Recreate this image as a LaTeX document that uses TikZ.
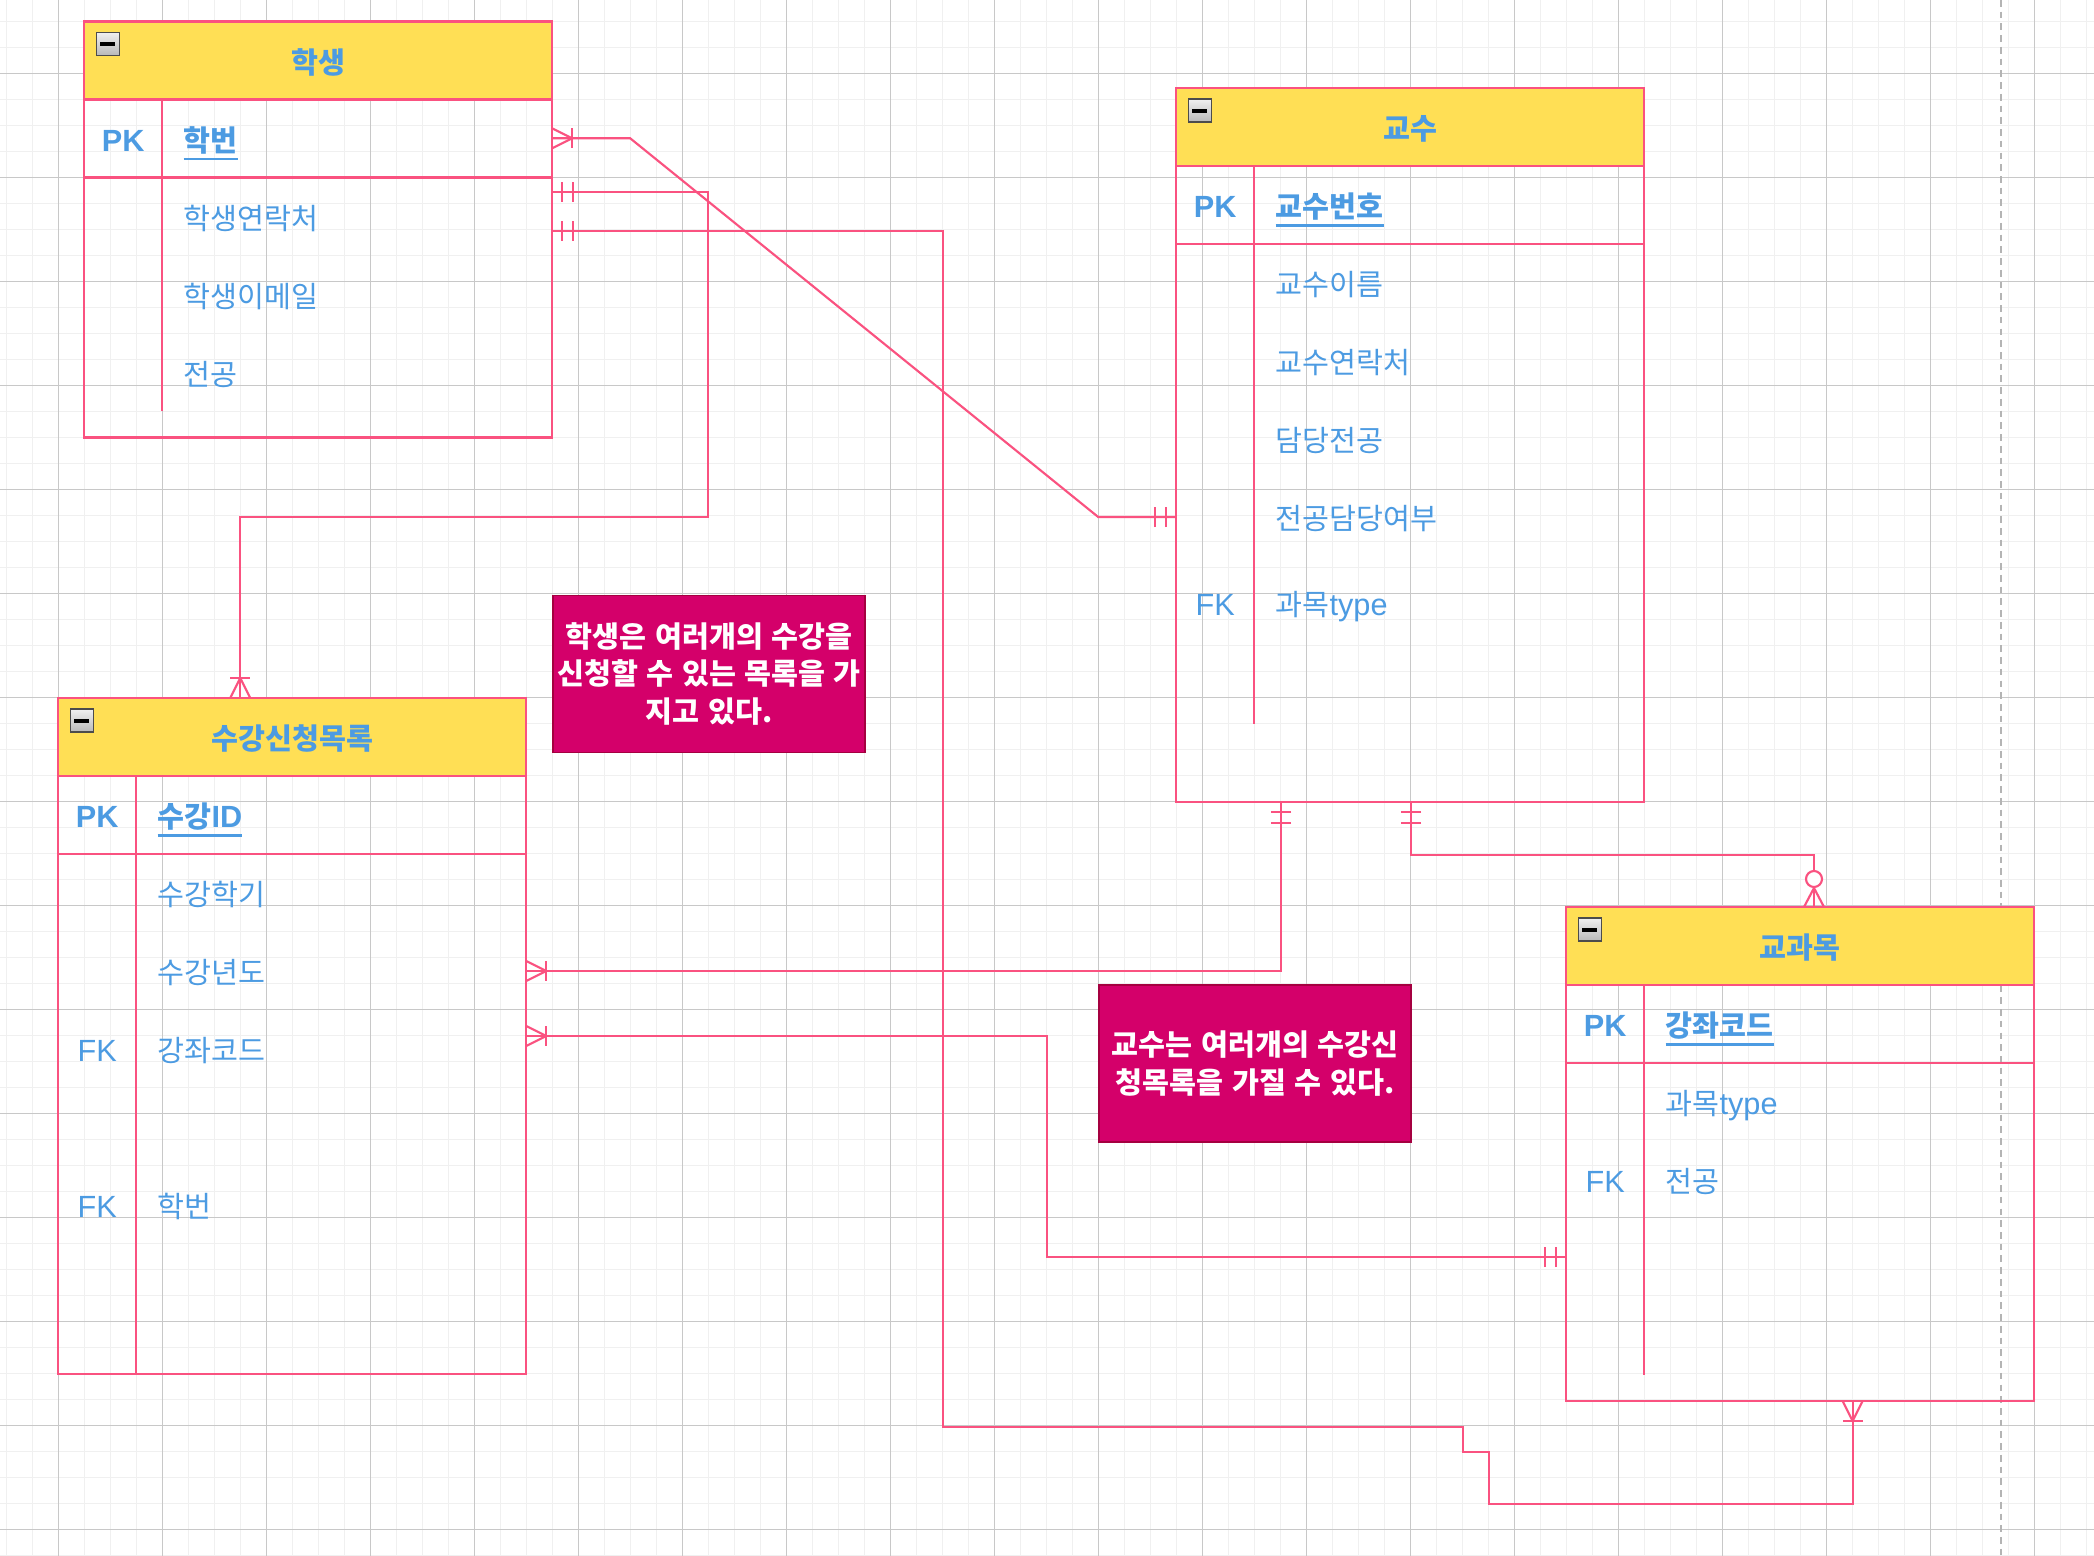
\documentclass[tikz,border=0pt]{standalone}
\usepackage{fontspec}
\setmainfont{Liberation Sans}
\newfontfamily\krf{Noto Sans CJK KR}[Scale=0.955]
\newcommand\K[1]{{\krf #1}}
\newcommand\ulk[1]{\setbox0\hbox{#1}\rlap{\rule[-3.3pt]{\wd0}{0.9pt}}\box0}
\usetikzlibrary{calc}
\definecolor{erpink}{RGB}{250,82,128}
\definecolor{eryellow}{HTML}{FFDF55}
\definecolor{erblue}{HTML}{4C9BE2}
\definecolor{notefill}{HTML}{D4006A}
\definecolor{noteline}{HTML}{A50040}
\definecolor{gridminor}{HTML}{F0F0F0}
\definecolor{gridmajor}{HTML}{C8C8C8}
\definecolor{pageline}{HTML}{B4B4B4}
\tikzset{
  basefont/.style={font=\fontsize{11.5pt}{14pt}\selectfont},
  tbl/.style={draw=erpink, line width=0.9pt, inner sep=0pt, outer sep=0pt, anchor=north west, rectangle, minimum width=175.5pt},
  hdr/.style={draw=erpink, fill=eryellow, line width=0.9pt, inner sep=0pt, outer sep=0pt, anchor=north west, rectangle, minimum width=175.5pt, minimum height=29.25pt},
  rowline/.style={draw=erpink, line width=0.9pt},
  txt/.style={basefont, text=erblue, inner sep=0pt, text height=12pt, text depth=2.4pt},
  htxt/.style={txt, font=\fontsize{11.5pt}{14pt}\selectfont\bfseries},
  keytxt/.style={txt, anchor=center},
  attr/.style={txt, anchor=west},
  conn/.style={draw=erpink, line width=0.8pt},
  note/.style={draw=noteline, fill=notefill, line width=0.7pt, text=white, font=\fontsize{11.5pt}{14pt}\selectfont\bfseries, align=center, minimum width=117pt, minimum height=58.9pt, inner sep=0pt, anchor=north west},
  pics/ermany/.style={code={\draw[conn] (0,10) -- (20,0) -- (0,-10); \draw[conn] (20,-10) -- (20,10);}},
  pics/ermand/.style={code={\draw[conn] (10,-10) -- (10,10) (21,-10) -- (21,10);}},
  pics/erzero/.style={code={\draw[conn] (0,10) -- (19,0) -- (0,-10); \draw[conn, fill=white] (28,0) circle[radius=3pt];}},
  pics/collapse/.style={code={
    \draw[draw=gray!60!black, line width=0.5pt, top color=gray!12, bottom color=gray!55] (0,0) rectangle (23,23);
    \fill[black] (3.5,9.5) rectangle (18.5,13.5);}}
}
\begin{document}
\begin{tikzpicture}[x=0.375pt, y=-0.375pt]
\useasboundingbox (0,0) rectangle (2094,1556);
\fill[white] (0,0) rectangle (2094,1556);
% grid
\foreach \i in {0,...,80} \draw[gridminor, line width=0.5pt] ({6.2+26*\i},0) -- ({6.2+26*\i},1556);
\foreach \i in {0,...,59} \draw[gridminor, line width=0.5pt] (0,{21.3+26*\i}) -- (2094,{21.3+26*\i});
\foreach \i in {0,...,19} \draw[gridmajor, line width=0.4pt] ({58.2+104*\i},0) -- ({58.2+104*\i},1556);
\foreach \i in {0,...,14} \draw[gridmajor, line width=0.4pt] (0,{73.3+104*\i}) -- (2094,{73.3+104*\i});
\draw[pageline, line width=0.6pt, dash pattern=on 2.5pt off 1.9pt] (2001,0) -- (2001,1556);

% ---------- tables ----------
% 학생
\node[tbl, minimum height=156pt] (stu) at (84.2,21.3) {};
\node[hdr] (stuH) at (stu.north west) {};
\node[htxt] (stuT) at (stuH.center) {\K{학생}};
\draw[rowline] ($(stu.north west)+(0,156)$) -- ($(stu.north east)+(0,156)$);
\draw[rowline] ($(stu.north west)+(78,78)$) -- ($(stu.south west)+(78,-26)$);
\pic at ($(stu.north west)+(12,11)$) {collapse};
\node[keytxt] (stuK1) at (123.2,138.3) {\bfseries PK};
\node[attr] (stuA1) at (183.2,138.3) {\bfseries\ulk{\K{학번}}};
\node[attr] (stuA2) at (183.2,216.3) {\K{학생연락처}};
\node[attr] (stuA3) at (183.2,294.3) {\K{학생이메일}};
\node[attr] (stuA4) at (183.2,372.3) {\K{전공}};

% 교수
\node[tbl, minimum height=267.75pt] (prof) at (1176.2,88) {};
\node[hdr] (profH) at (prof.north west) {};
\node[htxt] (profT) at (profH.center) {\K{교수}};
\draw[rowline] ($(prof.north west)+(0,156)$) -- ($(prof.north east)+(0,156)$);
\draw[rowline] ($(prof.north west)+(78,78)$) -- ($(prof.south west)+(78,-78)$);
\pic at ($(prof.north west)+(12,11)$) {collapse};
\node[keytxt] (profK1) at (1215.2,205) {\bfseries PK};
\node[attr] (profA1) at (1275.2,205) {\bfseries\ulk{\K{교수번호}}};
\node[attr] (profA2) at (1275.2,283) {\K{교수이름}};
\node[attr] (profA3) at (1275.2,361) {\K{교수연락처}};
\node[attr] (profA4) at (1275.2,439) {\K{담당전공}};
\node[attr] (profA5) at (1275.2,517) {\K{전공담당여부}};
\node[keytxt] (profK2) at (1215.2,603) {FK};
\node[attr] (profA6) at (1275.2,603) {\K{과목}type};

% 수강신청목록
\node[tbl, minimum height=253.5pt] (enr) at (58.2,698) {};
\node[hdr] (enrH) at (enr.north west) {};
\node[htxt] (enrT) at (enrH.center) {\K{수강신청목록}};
\draw[rowline] ($(enr.north west)+(0,156)$) -- ($(enr.north east)+(0,156)$);
\draw[rowline] ($(enr.north west)+(78,78)$) -- ($(enr.south west)+(78,0)$);
\pic at ($(enr.north west)+(12,11)$) {collapse};
\node[keytxt] (enrK1) at (97.2,815) {\bfseries PK};
\node[attr] (enrA1) at (157.2,815) {\bfseries\ulk{\K{수강}ID}};
\node[attr] (enrA2) at (157.2,893) {\K{수강학기}};
\node[attr] (enrA3) at (157.2,971) {\K{수강년도}};
\node[keytxt] (enrK2) at (97.2,1049) {FK};
\node[attr] (enrA4) at (157.2,1049) {\K{강좌코드}};
\node[keytxt] (enrK3) at (97.2,1205) {FK};
\node[attr] (enrA5) at (157.2,1205) {\K{학번}};

% 교과목
\node[tbl, minimum height=185.25pt] (subj) at (1566.2,907) {};
\node[hdr] (subjH) at (subj.north west) {};
\node[htxt] (subjT) at (subjH.center) {\K{교과목}};
\draw[rowline] ($(subj.north west)+(0,156)$) -- ($(subj.north east)+(0,156)$);
\draw[rowline] ($(subj.north west)+(78,78)$) -- ($(subj.south west)+(78,-26)$);
\pic at ($(subj.north west)+(12,11)$) {collapse};
\node[keytxt] (subjK1) at (1605.2,1024) {\bfseries PK};
\node[attr] (subjA1) at (1665.2,1024) {\bfseries\ulk{\K{강좌코드}}};
\node[attr] (subjA2) at (1665.2,1102) {\K{과목}type};
\node[keytxt] (subjK2) at (1605.2,1180) {FK};
\node[attr] (subjA3) at (1665.2,1180) {\K{전공}};

% ---------- notes ----------
\node[note] (note1) at (552.2,594.5) {\K{학생은} \K{여러개의} \K{수강을}\\\K{신청할} \K{수} \K{있는} \K{목록을} \K{가}\\\K{지고} \K{있다.}};
\node[note] (note2) at (1098.2,984) {\K{교수는} \K{여러개의} \K{수강신}\\\K{청목록을} \K{가질} \K{수} \K{있다.}};

% ---------- connection points ----------
\coordinate (c1s) at ($(stu.north east)+(0,117)$);
\coordinate (c1e) at ($(prof.north west)+(0,429)$);
\coordinate (c2s) at ($(stu.north east)+(0,171)$);
\coordinate (c2e) at ($(enr.north west)+(182,0)$);
\coordinate (c3s) at ($(stu.north east)+(0,209.7)$);
\coordinate (c3e) at ($(subj.south west)+(286.4,0)$);
\coordinate (c4s) at ($(prof.south west)+(104.8,0)$);
\coordinate (c4e) at ($(enr.north east)+(0,273)$);
\coordinate (c5s) at ($(prof.south west)+(234.8,0)$);
\coordinate (c5e) at ($(subj.north west)+(247.8,0)$);
\coordinate (c6s) at ($(enr.north east)+(0,338)$);
\coordinate (c6e) at ($(subj.north west)+(0,350)$);

% ---------- connectors ----------
\draw[conn] (c1s) -- ($(c1s)+(78,0)$) -- ($(c1e)+(-78,0)$) -- (c1e);
\draw[conn] (c2s) -| (708.2,516.7) -| (c2e);
\draw[conn] (c3s) -| (942.6,1426.7) -| (1463,1452.3) -| (1489,1504.3) -| (c3e);
\draw[conn] (c4s) |- (c4e);
\draw[conn] (c5s) -- ($(c5s)+(0,53)$) -| (c5e);
\draw[conn] (c6s) -- ($(c6s)+(520.5,0)$) |- (c6e);

% ---------- end markers ----------
\pic at (c1s) {ermany};
\pic[rotate=180] at (c1e) {ermand};
\pic at (c2s) {ermand};
\pic[rotate=90] at (c2e) {ermany};
\pic at (c3s) {ermand};
\pic[rotate=-90] at (c3e) {ermany};
\pic[rotate=-90] at (c4s) {ermand};
\pic at (c4e) {ermany};
\pic[rotate=-90] at (c5s) {ermand};
\pic[rotate=90] at (c5e) {erzero};
\pic at (c6s) {ermany};
\pic[rotate=180] at (c6e) {ermand};
\end{tikzpicture}
\end{document}
